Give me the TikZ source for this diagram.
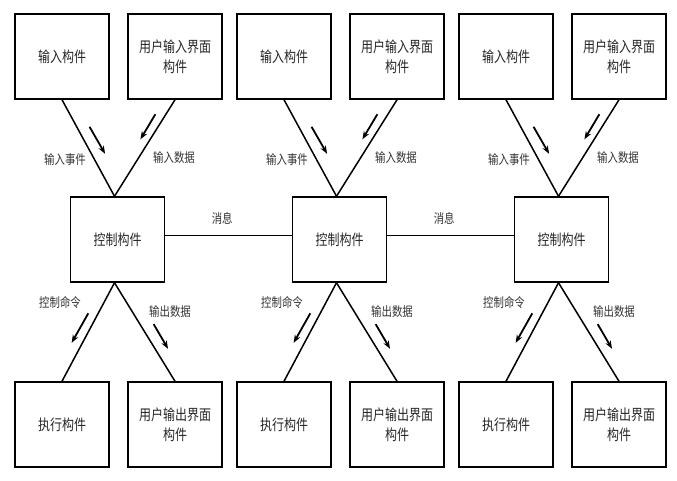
\documentclass[tikz,border=0pt]{standalone}
\usepackage{fontspec}
\setmainfont{Noto Sans CJK SC}[FakeStretch=0.8]
\usetikzlibrary{arrows.meta, calc}

\tikzset{
  comp/.style={draw, line width=1.5pt, minimum width=94pt, minimum height=85pt,
    inner sep=0pt, align=center, text=black!85, font=\fontsize{15}{20}\selectfont},
  lbl/.style={text=black!80, font=\fontsize{13}{15}\selectfont},
  link/.style={line width=1.5pt},
  flow/.style={line width=1.8pt, -{Stealth[length=8pt,width=6pt]}}
}

\begin{document}
\begin{tikzpicture}[x=1pt,y=-1pt]
    \useasboundingbox (0,0) rectangle (677,480);

    % --- three identical columns ---
    \foreach \i/\dx in {1/0,2/222,3/444} {
    \begin{scope}[xshift=\dx pt]
        % Components
        \node[comp] (in\i)  at (62,56.5)    {输入构件};
        \node[comp] (ui\i)  at (175,56.5)   {用户输入界面\\构件};
        \node[comp] (ctl\i) at (117.5,239.5) {控制构件};
        \node[comp] (exe\i) at (62,424.5)   {执行构件};
        \node[comp] (uo\i)  at (175,424.5)  {用户输出界面\\构件};

        % Links
        \draw[link] (in\i.south) -- ([xshift=-3pt]ctl\i.north);
        \draw[link] (ui\i.south) -- ([xshift=-3pt]ctl\i.north);
        \draw[link] ([xshift=-3pt]ctl\i.south) -- (exe\i.north);
        \draw[link] ([xshift=-3pt]ctl\i.south) -- (uo\i.north);

        % Flow arrows
        \draw[flow] ($(in\i.south)!0.28!(ctl\i.north)+(12,0)$) -- ($(in\i.south)!0.56!(ctl\i.north)+(12,0)$);
        \draw[flow] ($(ui\i.south)!0.15!(ctl\i.north)+(-11,0)$) -- ($(ui\i.south)!0.41!(ctl\i.north)+(-11,0)$);
        \draw[flow] ($(ctl\i.south)!0.31!(exe\i.north)+(-12,0)$) -- ($(ctl\i.south)!0.61!(exe\i.north)+(-12,0)$);
        \draw[flow] ($(ctl\i.south)!0.42!(uo\i.north)+(12,0)$) -- ($(ctl\i.south)!0.67!(uo\i.north)+(12,0)$);

        % Labels
        \node[lbl] (lev\i) at (65,160)  {输入事件};
        \node[lbl] (lid\i) at (174,158) {输入数据};
        \node[lbl] (lcc\i) at (60,303)  {控制命令};
        \node[lbl] (lod\i) at (170,312) {输出数据};
    \end{scope}
    }

    % Messages between controllers
    \draw[link] ([yshift=4pt]ctl1.east) -- ([yshift=4pt]ctl2.west);
    \draw[link] ([yshift=4pt]ctl2.east) -- ([yshift=4pt]ctl3.west);
    \node[lbl] (msg1) at ($(ctl1.east)!0.45!(ctl2.west)+(0,-21)$) {消息};
    \node[lbl] (msg2) at ($(ctl2.east)!0.45!(ctl3.west)+(0,-21)$) {消息};
\end{tikzpicture}
\end{document}
